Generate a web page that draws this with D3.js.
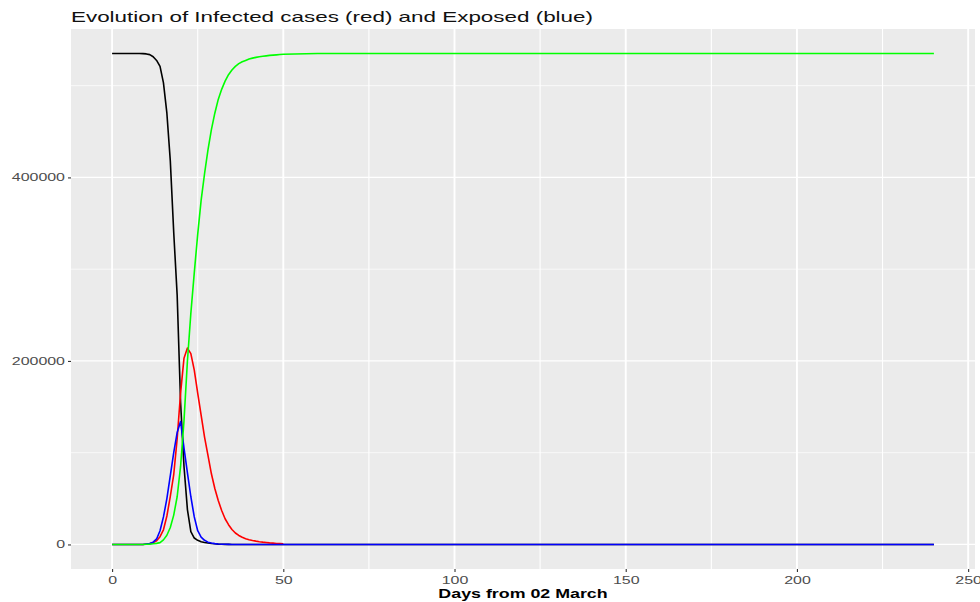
<!DOCTYPE html>
<html>
<head>
<meta charset="utf-8">
<script src="https://cdn.jsdelivr.net/npm/d3@7"></script>
<style>
  body { margin: 0; background: #fff; }
  text { font-family: "Liberation Sans", Arial, sans-serif; }
</style>
</head>
<body>
<svg id="chart"></svg>
<script>
// day index shared by every series (tail is flat, so sparse points there)
const days = [0,1,2,3,4,5,6,7,8,9,10,11,12,13,14,15,16,17,18,19,20,21,22,23,24,25,26,27,28,29,30,
  31,32,33,34,35,36,37,38,39,40,41,42,43,44,45,46,47,48,49,50,60,240];

// susceptible (black)
const susceptible = [535000,535000,535000,535000,535000,535000,535000,535000,535000,534900,534600,
  533800,531500,527500,521000,503000,470000,418000,340000,272000,155000,85000,38000,14000,7000,4500,
  3000,2200,1500,1000,700,400,250,120,50,0,0,0,0,0,0,0,0,0,0,0,0,0,0,0,0,0,0];

// exposed (blue)
const exposed = [0,0,0,0,0,0,0,0,0,0,500,1000,2500,6000,15000,30000,50000,75000,100000,122000,134000,
  105000,78000,52000,30000,15000,8000,4500,2500,1500,900,500,300,150,50,0,0,0,0,0,0,0,0,0,0,0,0,0,0,0,0,0,0];

// infected (red) - only runs to day 50
const infected = [0,0,0,0,0,0,0,0,0,0,500,1000,2000,4000,8500,16000,31000,52500,76000,115000,165000,
  203000,214000,208000,190000,165000,141000,117000,97000,77000,61000,48000,37000,28000,21500,16300,
  12500,9800,7800,6300,5200,4300,3600,3000,2500,2100,1700,1400,1100,900,700];

// recovered (green)
const recovered = [0,0,0,0,0,0,0,0,0,0,200,400,700,1200,2000,5000,10000,18500,32000,52000,85000,135000,
  200000,252000,296000,338000,375000,404000,430000,452000,470000,485000,496000,505000,512000,517000,
  521000,524000,526000,527500,529000,530000,530800,531500,532000,532500,533000,533300,533600,533900,
  534200,535000,535000];

const xTicks = [0, 50, 100, 150, 200, 250];
const xMinor = [25, 75, 125, 175, 225];
const yTicks = [0, 200000, 400000];
const yMinor = [100000, 300000, 500000];

const titleText = "Evolution of Infected cases (red) and Exposed (blue)";
const xLabel = "Days from 02 March";

const svgWidth = 980, svgHeight = 602;
const margin = { top: 29, right: 5, bottom: 33, left: 71 };
const width = svgWidth - margin.left - margin.right;
const height = svgHeight - margin.top - margin.bottom;

const svg = d3.select('#chart')
  .attr('width', svgWidth)
  .attr('height', svgHeight);

const g = svg.append('g')
  .attr('transform', 'translate(' + margin.left + ',' + margin.top + ')');

// ggplot style 5% expansion on both axes
const xMax = d3.max(days), yMax = d3.max(recovered);
const x = d3.scaleLinear()
  .domain([-0.05 * xMax, 1.05 * xMax])
  .range([0, width]);
const y = d3.scaleLinear()
  .domain([-0.05 * yMax, 1.05 * yMax])
  .range([height, 0]);

g.append('rect')
  .attr('width', width)
  .attr('height', height)
  .attr('fill', '#EBEBEB');

// grid
g.selectAll('.hminor').data(yMinor).enter().append('line')
  .attr('x1', 0).attr('x2', width)
  .attr('y1', d => y(d)).attr('y2', d => y(d))
  .attr('stroke', '#fff').attr('stroke-width', 0.7);
g.selectAll('.vminor').data(xMinor).enter().append('line')
  .attr('y1', 0).attr('y2', height)
  .attr('x1', d => x(d)).attr('x2', d => x(d))
  .attr('stroke', '#fff').attr('stroke-width', 1.1);
g.selectAll('.hmajor').data(yTicks).enter().append('line')
  .attr('x1', 0).attr('x2', width)
  .attr('y1', d => y(d)).attr('y2', d => y(d))
  .attr('stroke', '#fff').attr('stroke-width', 1.3);
g.selectAll('.vmajor').data(xTicks).enter().append('line')
  .attr('y1', 0).attr('y2', height)
  .attr('x1', d => x(d)).attr('x2', d => x(d))
  .attr('stroke', '#fff').attr('stroke-width', 1.9);

// series, drawn in this order so the overlaps match
const series = [
  { values: susceptible, color: '#000000' },
  { values: infected, color: '#FF0000' },
  { values: exposed, color: '#0000FF' },
  { values: recovered, color: '#00FF00' }
];

const line = d3.line()
  .x(d => x(d.day))
  .y(d => y(d.value));

series.forEach(s => {
  const pts = s.values.map((v, i) => ({ day: days[i], value: v }));
  g.append('path')
    .datum(pts)
    .attr('fill', 'none')
    .attr('stroke', s.color)
    .attr('stroke-width', 1.6)
    .attr('stroke-linejoin', 'round')
    .attr('d', line);
});

// axes
const xAxis = g.append('g')
  .attr('transform', 'translate(0,' + height + ')')
  .call(d3.axisBottom(x).tickValues(xTicks).tickSize(3).tickPadding(4));
const yAxis = g.append('g')
  .call(d3.axisLeft(y).tickValues(yTicks).tickFormat(d3.format('d')).tickSize(3).tickPadding(3));

[xAxis, yAxis].forEach(a => {
  a.select('.domain').remove();
  a.selectAll('.tick line').attr('stroke', '#333333').attr('stroke-width', 1.1);
  a.selectAll('.tick text')
    .attr('fill', '#4D4D4D')
    .style('font-size', '11px')
    .style('font-family', '"Liberation Sans", Arial, sans-serif');
});

svg.append('text')
  .attr('class', 'title')
  .attr('x', margin.left)
  .attr('y', 22)
  .attr('fill', '#111')
  .style('font-size', '14.5px')
  .text(titleText);

svg.append('text')
  .attr('class', 'xtitle')
  .attr('x', margin.left + width / 2)
  .attr('y', 598)
  .attr('text-anchor', 'middle')
  .attr('fill', '#000')
  .style('font-size', '13px')
  .style('font-weight', 'bold')
  .text(xLabel);

// widen labels to the reference's stretched look
function widen(sel, factor) {
  sel.each(function() {
    const w = this.getComputedTextLength();
    d3.select(this)
      .attr('textLength', w * factor)
      .attr('lengthAdjust', 'spacingAndGlyphs');
  });
}
widen(svg.selectAll('.tick text'), 1.45);
widen(svg.selectAll('.xtitle'), 1.37);
const tNode = svg.select('.title').node();
widen(svg.selectAll('.title'), 522 / tNode.getComputedTextLength());
</script>
</body>
</html>
